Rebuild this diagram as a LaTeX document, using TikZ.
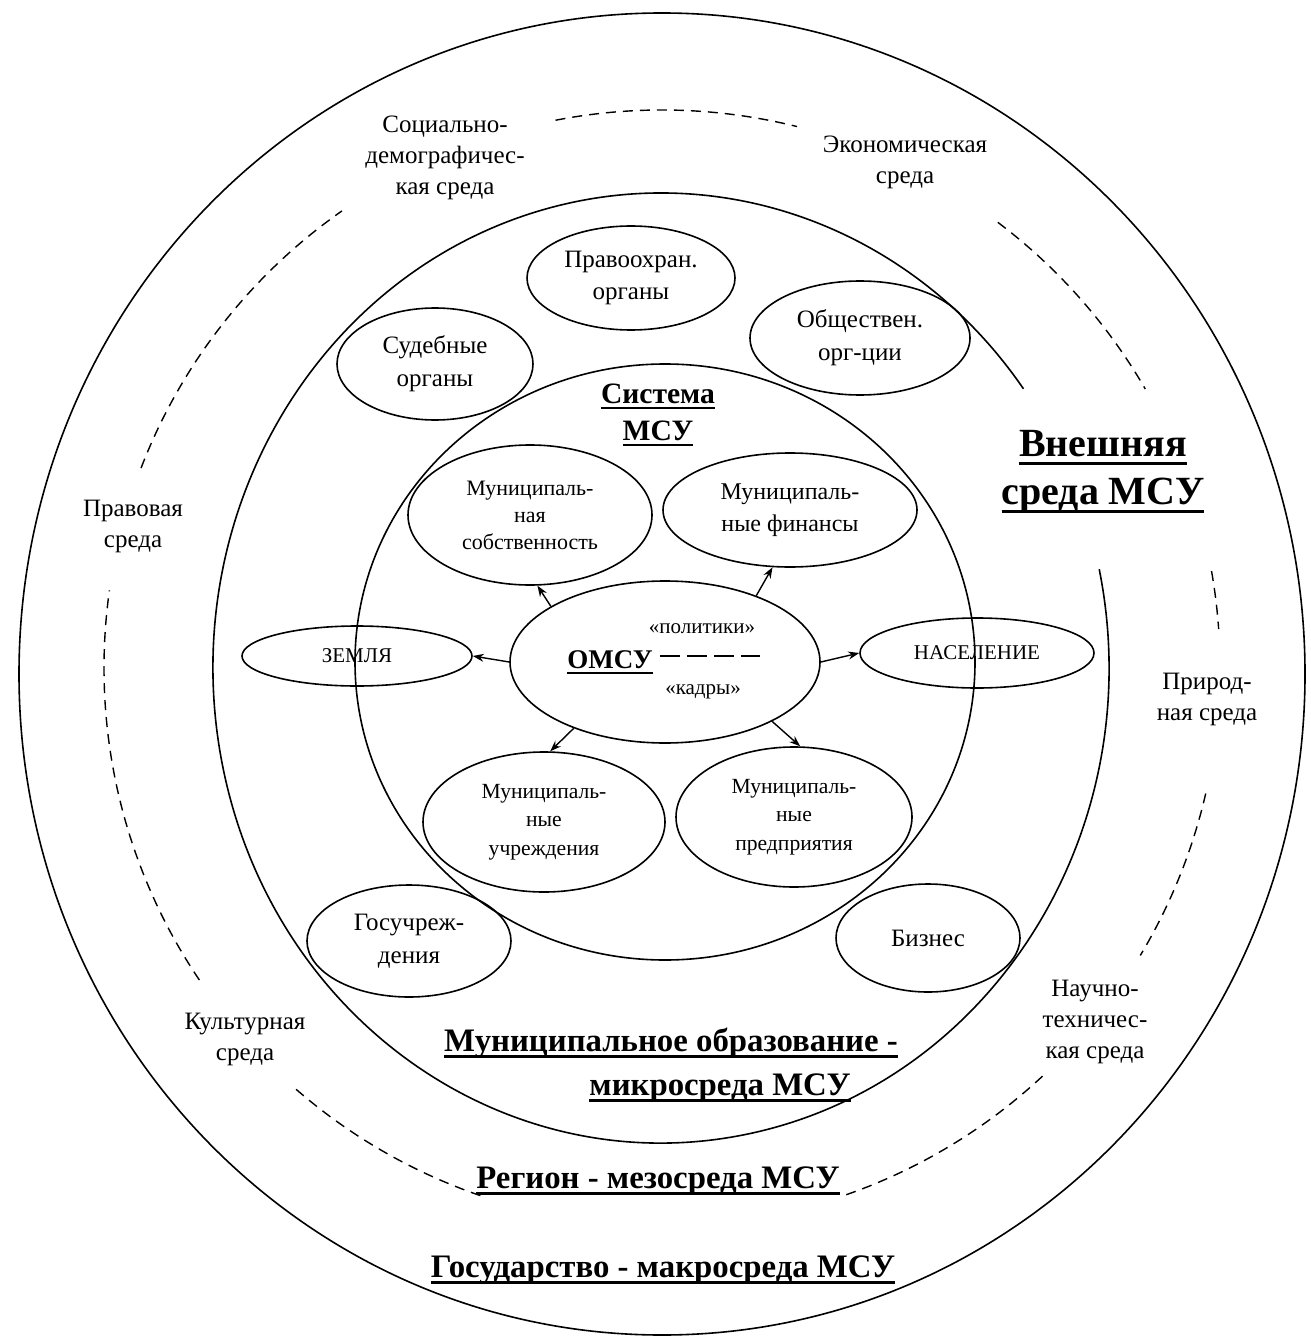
\documentclass[tikz,border=0pt]{standalone}
\usepackage{fontspec}
\setmainfont{Liberation Serif}
\usetikzlibrary{shapes.geometric,arrows.meta}
\newsavebox\ulbox
\newcommand\ulbf[1]{\sbox\ulbox{#1}\rlap{\rule[-0.2em]{\wd\ulbox}{0.075em}}\usebox\ulbox}

\begin{document}
\begin{tikzpicture}[x=0.5pt,y=-0.5pt,
  env/.style={align=center, font=\fontsize{12.5}{15.5}\selectfont},
  ov/.style={ellipse, draw, line width=0.8pt, inner sep=0pt, align=center, font=\fontsize{12.5}{16.3}\selectfont},
  mun/.style={ov, font=\fontsize{10.8}{14.3}\selectfont},
  ttl/.style={align=center, font=\bfseries\fontsize{16.4}{22}\selectfont},
  arr/.style={-{Stealth[length=5.5pt,width=4pt]}, line width=0.7pt},
  ring/.style={line width=0.8pt},
  brk/.style={dash pattern=on 5pt off 3.5pt, line width=0.7pt},
  omdash/.style={dash pattern=on 10pt off 3.5pt, line width=0.8pt}]
\useasboundingbox (0,0) rectangle (1310,1342);
\draw[ring] (662,674) ellipse [x radius=643, y radius=661];
\draw[ring] (661,668) ++(-12:448 and 475) arc [start angle=-12, end angle=324, x radius=448, y radius=475];
\draw[ring] (665,662) ellipse [x radius=310, y radius=298];
\foreach \a/\b in {-101/-76, -53/-30, -10/-4, 13/31, 47/71, 109/131, 146/188, 201/235}
  \draw[brk] (662,668) ++(\a:558) arc [start angle=\a, end angle=\b, radius=558];

\node[env] (socdem) at (445,158) {Социально-\\демографичес-\\кая среда};
\node[env] (ekon) at (905,162) {Экономическая\\среда};
\node[env] (pravo) at (133,526) {Правовая\\среда};
\node[env] (prirod) at (1207,699) {Природ-\\ная среда};
\node[env] (kultur) at (245,1039) {Культурная\\среда};
\node[env] (nauch) at (1095,1022) {Научно-\\техничес-\\кая среда};

\node[ttl, font=\bfseries\fontsize{20}{24}\selectfont] (vnesh) at (1103,472) {\ulbf{Внешняя}\\\ulbf{среда МСУ}};
\node[ttl, font=\bfseries\fontsize{14.8}{18.5}\selectfont] (sistema) at (658,415) {\ulbf{Система}\\\ulbf{МСУ}};
\node[ttl] (munobr) at (671,1043) {\ulbf{Муниципальное образование -}};
\node[ttl] (mikro) at (720,1088) {\ulbf{микросреда МСУ}};
\node[ttl] (region) at (658,1181) {\ulbf{Регион - мезосреда МСУ}};
\node[ttl] (gosud) at (663,1270) {\ulbf{Государство - макросреда МСУ}};

\node[ov, minimum width=104pt, minimum height=52pt] (pravooh) at (631,278) {Правоохран.\\органы};
\node[ov, minimum width=98pt, minimum height=56pt] (sudeb) at (435,364) {Судебные\\органы};
\node[ov, minimum width=110pt, minimum height=57pt] (obsch) at (860,338) {Обществен.\\орг-ции};
\node[mun, minimum width=122pt, minimum height=70pt, font=\fontsize{11}{13.5}\selectfont] (sobstv) at (530,515) {Муниципаль-\\ная\\собственность};
\node[ov, minimum width=127pt, minimum height=57pt, font=\fontsize{12}{16}\selectfont] (finans) at (790,510) {Муниципаль-\\ные финансы};
\node[ov, minimum width=155pt, minimum height=81pt] (omsu) at (665,662) {};
\node[ov, minimum width=115pt, minimum height=30pt, font=\fontsize{10.5}{12}\selectfont] (zemlya) at (357,656) {ЗЕМЛЯ};
\node[ov, minimum width=117pt, minimum height=35pt, font=\fontsize{10.5}{12}\selectfont] (nasel) at (977,653) {НАСЕЛЕНИЕ};
\node[mun, minimum width=121pt, minimum height=70pt] (uchr) at (544,822) {Муниципаль-\\ные\\учреждения};
\node[mun, minimum width=118pt, minimum height=70pt] (predpr) at (794,817) {Муниципаль-\\ные\\предприятия};
\node[ov, minimum width=102pt, minimum height=56pt] (gosuchr) at (409,941) {Госучреж-\\дения};
\node[ov, minimum width=92pt, minimum height=54pt] (biznes) at (928,938) {Бизнес};

\node[font=\bfseries\fontsize{13.5}{16}\selectfont] (omsut) at (610,662) {\ulbf{ОМСУ}};
\coordinate (dend) at (760,656);
\draw[omdash] (omsut.east |- dend) -- (dend);
\node[font=\fontsize{10.5}{12}\selectfont] (polit) at (702,629) {«политики»};
\node[font=\fontsize{10.5}{12}\selectfont] (kadry) at (703,692) {«кадры»};

\draw[arr] (omsu.west) -- (zemlya.east);
\draw[arr] (omsu.east) -- (nasel.west);
\draw[arr] (omsu.154) -- (sobstv.-84);
\draw[arr] (omsu.36) -- (finans.-107);
\draw[arr] (omsu.-144) -- (uchr.85);
\draw[arr] (omsu.-29) -- (predpr.85);
\end{tikzpicture}
\end{document}
